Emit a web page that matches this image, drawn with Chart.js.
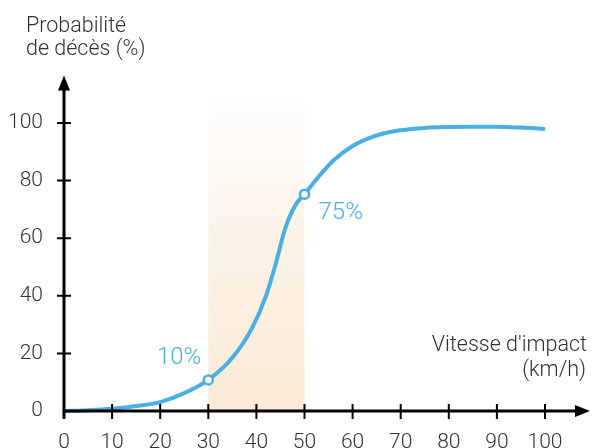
<!DOCTYPE html>
<html>
<head>
<meta charset="utf-8">
<script src="https://cdn.jsdelivr.net/npm/chart.js@4"></script>
<style>
  html, body { margin: 0; padding: 0; background: #fff; }
  #wrap { width: 595px; height: 448px; }
</style>
</head>
<body>
<div id="wrap"><canvas id="chart" width="595" height="448"></canvas></div>
<script>
// speed (km/h) and probability of death (%)
const speeds = [0, 5, 10, 15, 20, 25, 30, 35, 39, 42, 44, 46, 48, 50, 53, 56, 60, 63, 66, 70, 75, 80, 85, 90, 95, 100];
const probs  = [0, 0.3, 0.8, 1.7, 3.1, 6.2, 10.8, 18.5, 28.5, 40, 51, 63.4, 71.2, 75.3, 81.5, 87, 92, 94.5, 96.2, 97.5, 98.3, 98.6, 98.7, 98.7, 98.4, 97.9];

// highlighted points
const markX = [30, 50];
const markY = [10.8, 75.3];
const markLabels = ["10%", "75%"];

// shaded speed band
const bandFrom = 30;
const bandTo = 50;

const xTicks = [0, 10, 20, 30, 40, 50, 60, 70, 80, 90, 100];
const yTicks = [0, 20, 40, 60, 80, 100];

const yTitle = ["Probabilité", "de décès (%)"];
const xTitle = ["Vitesse d'impact", "(km/h)"];

const BLUE = "#4aafe2";
const TEXT = "#333333";
const FONT = "300 21.5px Roboto";

const axesPlugin = {
    id: "axes",
    beforeDatasetsDraw(chart) {
        const ctx = chart.ctx;
        const x = chart.scales.x, y = chart.scales.y;
        // band with vertical fade
        const left = x.getPixelForValue(bandFrom);
        const right = x.getPixelForValue(bandTo);
        const bottom = y.getPixelForValue(0);
        const top = y.getPixelForValue(112);
        const g = ctx.createLinearGradient(0, bottom, 0, top);
        g.addColorStop(0, "rgb(249,234,213)");
        g.addColorStop(0.6, "rgb(252,244,234)");
        g.addColorStop(1, "rgba(255,255,255,1)");
        ctx.save();
        ctx.fillStyle = g;
        ctx.fillRect(left, top, right - left, bottom - top);
        ctx.restore();
    },
    afterDatasetsDraw(chart) {
        const ctx = chart.ctx;
        const x = chart.scales.x, y = chart.scales.y;
        const x0 = x.getPixelForValue(0);
        const y0 = y.getPixelForValue(0);
        const xEnd = chart.width - 5;
        const yTop = y.getPixelForValue(116.5);
        ctx.save();
        ctx.strokeStyle = "#000";
        ctx.fillStyle = "#000";
        ctx.lineWidth = 3;
        // axis lines
        ctx.beginPath();
        ctx.moveTo(x0 - 1, y0);
        ctx.lineTo(xEnd - 10, y0);
        ctx.moveTo(x0, y0 + 8);
        ctx.lineTo(x0, yTop + 10);
        ctx.stroke();
        // arrow heads
        ctx.beginPath();
        ctx.moveTo(xEnd, y0);
        ctx.lineTo(xEnd - 15, y0 - 6);
        ctx.lineTo(xEnd - 15, y0 + 6);
        ctx.closePath();
        ctx.fill();
        ctx.beginPath();
        ctx.moveTo(x0, yTop);
        ctx.lineTo(x0 - 6, yTop + 15);
        ctx.lineTo(x0 + 6, yTop + 15);
        ctx.closePath();
        ctx.fill();
        // tick marks crossing the axes
        ctx.lineWidth = 2;
        ctx.beginPath();
        xTicks.forEach(v => {
            if (v === 0) return;
            const px = x.getPixelForValue(v);
            ctx.moveTo(px, y0 - 7);
            ctx.lineTo(px, y0 + 8);
        });
        yTicks.forEach(v => {
            if (v === 0) return;
            const py = y.getPixelForValue(v);
            ctx.moveTo(x0 - 7, py);
            ctx.lineTo(x0 + 7, py);
        });
        ctx.stroke();

        // axis titles
        ctx.font = FONT;
        ctx.fillStyle = TEXT;
        ctx.textBaseline = "alphabetic";
        ctx.textAlign = "left";
        ctx.fillText(yTitle[0], 26, 32);
        ctx.fillText(yTitle[1], 26, 55);
        ctx.textAlign = "right";
        ctx.fillText(xTitle[0], 587, 351);
        ctx.fillText(xTitle[1], 586, 376);

        // point labels
        ctx.font = "300 24px Roboto";
        ctx.fillStyle = BLUE;
        ctx.textBaseline = "middle";
        ctx.textAlign = "right";
        ctx.fillText(markLabels[0], x.getPixelForValue(markX[0]) - 7, y.getPixelForValue(markY[0]) - 22);
        ctx.textAlign = "left";
        ctx.fillText(markLabels[1], x.getPixelForValue(markX[1]) + 14, y.getPixelForValue(markY[1]) + 19);
        ctx.restore();
    }
};

const tickFont = { family: "Roboto", weight: 300, size: 21 };

new Chart(document.getElementById("chart"), {
    type: "line",
    data: {
        datasets: [{
            data: markX.map((v, i) => ({ x: v, y: markY[i] })),
            showLine: false,
            pointRadius: 4.5,
            pointBorderWidth: 2.5,
            pointBackgroundColor: "#fff",
            pointBorderColor: BLUE,
            clip: false
        }, {
            data: speeds.map((v, i) => ({ x: v, y: probs[i] })),
            borderColor: BLUE,
            borderWidth: 4,
            pointRadius: 0,
            cubicInterpolationMode: "monotone",
            fill: false,
            clip: false
        }]
    },
    options: {
        responsive: false,
        animation: false,
        layout: { padding: { top: 123, right: 50, left: 0, bottom: 0 } },
        plugins: {
            legend: { display: false },
            tooltip: { enabled: false }
        },
        scales: {
            x: {
                type: "linear",
                min: 0,
                max: 100,
                afterBuildTicks: s => { s.ticks = xTicks.map(v => ({ value: v })); },
                afterFit: s => { s.height = 37; },
                grid: { display: false },
                border: { display: false },
                ticks: { color: TEXT, font: tickFont, padding: 11, maxRotation: 0 }
            },
            y: {
                min: 0,
                max: 100,
                afterBuildTicks: s => { s.ticks = yTicks.map(v => ({ value: v })); },
                afterFit: s => { s.width = 64; },
                grid: { display: false },
                border: { display: false },
                ticks: { color: TEXT, font: tickFont, padding: 13 }
            }
        }
    },
    plugins: [axesPlugin]
});
</script>
</body>
</html>
